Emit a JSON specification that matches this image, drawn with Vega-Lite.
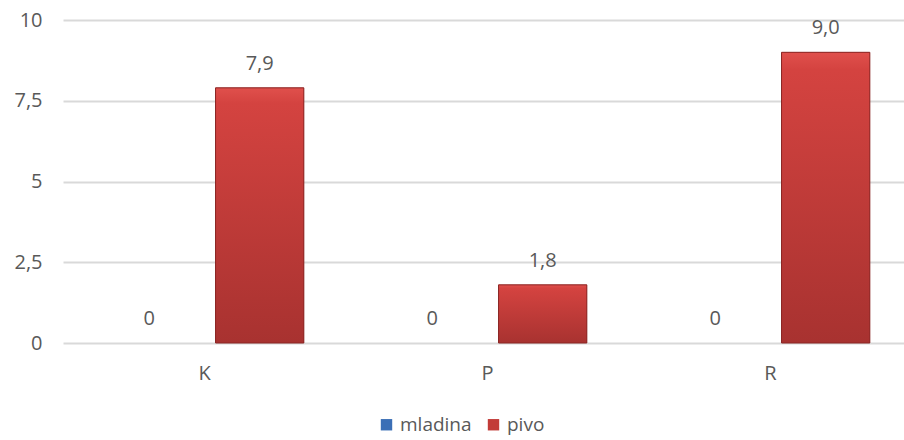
{
  "$schema": "https://vega.github.io/schema/vega-lite/v6.json",
  "width": 849,
  "height": 323,
  "autosize": {"type": "none"},
  "padding": {"left": 63, "top": 20, "right": 0, "bottom": 97},
  "background": "white",
  "config": {
    "font": "Open Sans",
    "view": {"stroke": null}
  },
  "data": {
    "values": [
      {"kategorija": "K", "serija": "mladina", "vrednost": 0, "oznaka": "0"},
      {"kategorija": "K", "serija": "pivo", "vrednost": 7.9, "oznaka": "7,9"},
      {"kategorija": "P", "serija": "mladina", "vrednost": 0, "oznaka": "0"},
      {"kategorija": "P", "serija": "pivo", "vrednost": 1.8, "oznaka": "1,8"},
      {"kategorija": "R", "serija": "mladina", "vrednost": 0, "oznaka": "0"},
      {"kategorija": "R", "serija": "pivo", "vrednost": 9.0, "oznaka": "9,0"}
    ]
  },
  "encoding": {
    "x": {
      "field": "kategorija",
      "type": "nominal",
      "scale": {"paddingInner": 0.22, "paddingOuter": 0.11},
      "axis": {
        "title": null,
        "labelAngle": 0,
        "labelFontSize": 20,
        "labelColor": "#595959",
        "labelPadding": 20,
        "ticks": false,
        "domain": false,
        "grid": false
      }
    },
    "xOffset": {
      "field": "serija",
      "type": "nominal",
      "sort": ["mladina", "pivo"],
      "scale": {"paddingInner": 0.2, "paddingOuter": 0.1}
    },
    "y": {
      "field": "vrednost",
      "type": "quantitative",
      "scale": {"domain": [0, 10]},
      "axis": {
        "title": null,
        "values": [0, 2.5, 5, 7.5, 10],
        "labelExpr": "replace(format(datum.value, '~g'), '.', ',')",
        "labelFontSize": 20,
        "labelColor": "#595959",
        "labelPadding": 21,
        "ticks": false,
        "domain": false,
        "gridColor": "#D9D9D9",
        "gridWidth": 2
      }
    }
  },
  "layer": [
    {
      "mark": {"type": "bar"},
      "encoding": {
        "color": {
          "field": "serija",
          "type": "nominal",
          "sort": ["mladina", "pivo"],
          "scale": {"domain": ["mladina", "pivo"], "range": ["#3B6FB6", "#C23C38"]},
          "legend": {
            "title": null,
            "orient": "none",
            "direction": "horizontal",
            "legendX": 314,
            "legendY": 395,
            "symbolType": "square",
            "symbolSize": 130,
            "symbolStrokeWidth": 0,
            "labelFontSize": 19,
            "labelColor": "#595959",
            "columnPadding": 12,
            "labelOffset": 4
          }
        }
      }
    },
    {
      "transform": [{"filter": "datum.serija == 'pivo'"}],
      "mark": {
        "type": "bar",
        "stroke": "#8A2624",
        "strokeWidth": 1,
        "color": {
          "gradient": "linear",
          "x1": 0, "y1": 0, "x2": 0, "y2": 1,
          "stops": [
            {"offset": 0, "color": "#E0504C"},
            {"offset": 0.06, "color": "#D44340"},
            {"offset": 1, "color": "#A83230"}
          ]
        }
      },
      "encoding": {}
    },
    {
      "mark": {"type": "text", "baseline": "bottom", "dy": -14, "fontSize": 20, "color": "#595959"},
      "encoding": {
        "text": {"field": "oznaka"}
      }
    }
  ]
}
